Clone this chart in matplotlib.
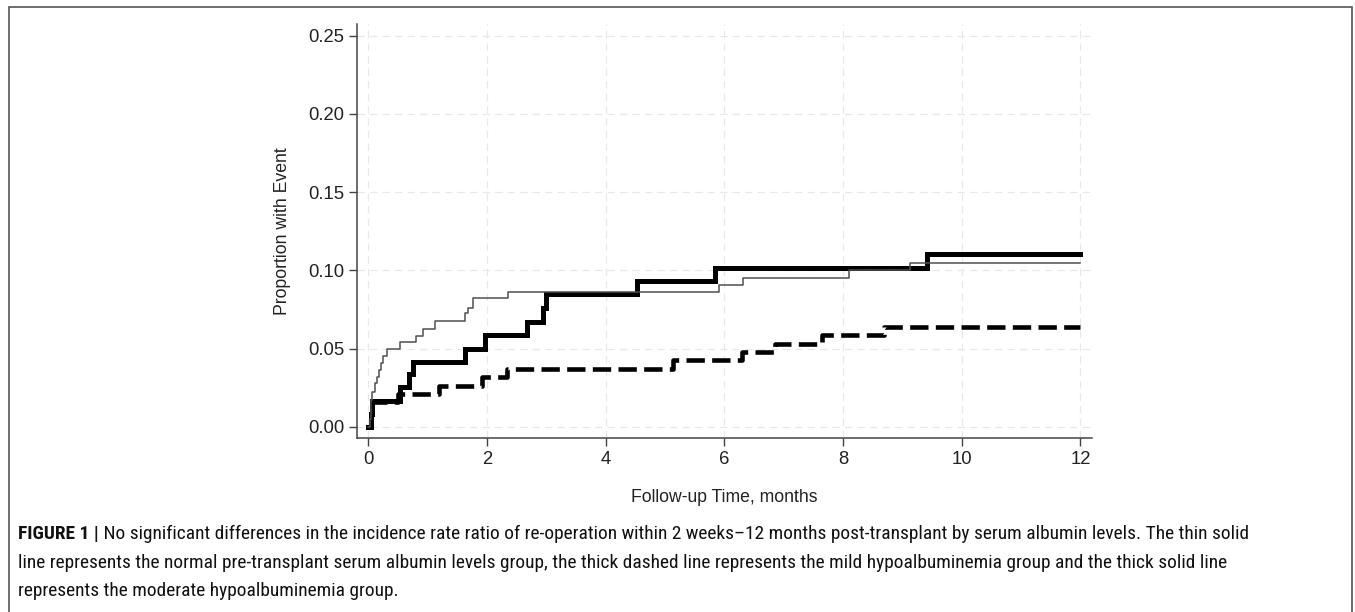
import matplotlib
matplotlib.use("Agg")
import matplotlib.pyplot as plt
from matplotlib import font_manager
from matplotlib.patches import Rectangle

# ---- data ----
normal_t = [0, 0.03, 0.04, 0.05, 0.07, 0.11, 0.14, 0.175, 0.21, 0.25, 0.31, 0.53, 0.81,
            0.93, 1.12, 1.63, 1.68, 1.77, 2.36, 5.91, 6.31, 8.10, 9.12, 12]
normal_p = [0, 0.005, 0.011, 0.017, 0.022, 0.028, 0.032, 0.036, 0.0405, 0.045, 0.050, 0.054,
            0.058, 0.0625, 0.0675, 0.0725, 0.076, 0.082, 0.086, 0.0905, 0.095, 0.100, 0.105, 0.105]

mild_t = [0, 0.04, 0.05, 0.06, 0.50, 1.20, 1.91, 2.34, 5.14, 6.29, 6.85, 7.64, 8.69, 12]
mild_p = [0, 0.005, 0.011, 0.016, 0.021, 0.026, 0.032, 0.037, 0.0426, 0.048, 0.053, 0.0586,
          0.064, 0.064]

moderate_t = [0, 0.045, 0.05, 0.055, 0.06, 0.53, 0.69, 0.75, 1.63, 1.97, 2.67, 2.95, 3.0,
              4.52, 5.84, 9.41, 12]
moderate_p = [0, 0.004, 0.008, 0.012, 0.0166, 0.0256, 0.0337, 0.0416, 0.050, 0.0586, 0.067,
              0.076, 0.0848, 0.093, 0.1017, 0.1104, 0.1104]

x_ticks = [0, 2, 4, 6, 8, 10, 12]
y_ticks = [0.00, 0.05, 0.10, 0.15, 0.20, 0.25]
y_tick_labels = ["0.00", "0.05", "0.10", "0.15", "0.20", "0.25"]
x_label = "Follow-up Time, months"
y_label = "Proportion with Event"
caption_bold = "FIGURE 1 |"
caption_lines = [
    " No significant differences in the incidence rate ratio of re-operation within 2 weeks\u201312 months post-transplant by serum albumin levels. The thin solid",
    "line represents the normal pre-transplant serum albumin levels group, the thick dashed line represents the mild hypoalbuminemia group and the thick solid line",
    "represents the moderate hypoalbuminemia group.",
]

available = {f.name for f in font_manager.fontManager.ttflist}
base_font = "Liberation Sans" if "Liberation Sans" in available else "DejaVu Sans"
cap_font = base_font
for cand in ["Liberation Sans Narrow", "Roboto Condensed", "Open Sans Condensed"]:
    if cand in available:
        cap_font = cand
        break
plt.rcParams["font.family"] = [base_font, "DejaVu Sans"]

W, H = 1355, 612
fig = plt.figure(figsize=(W / 100, H / 100), dpi=100)
fig.patch.set_facecolor("white")

# outer frame
fig.add_artist(Rectangle((9 / W, -0.05), (1352 - 9) / W, (H - 6.5) / H + 0.05,
                         transform=fig.transFigure, fill=False, edgecolor="#555555",
                         linewidth=1.2))

ax = fig.add_axes([357.3 / W, (H - 438.3) / H, (1091.7 - 357.3) / W, (438.3 - 24) / H])
ax.set_xlim(-0.185, 12.19)
ax.set_ylim(-0.0074, 0.2575)

for s in ["top", "right"]:
    ax.spines[s].set_visible(False)
for s in ["left", "bottom"]:
    ax.spines[s].set_color("#444444")
    ax.spines[s].set_linewidth(1.1)

ax.set_xticks(x_ticks)
ax.set_yticks(y_ticks)
ax.set_yticklabels(y_tick_labels)
ax.tick_params(axis="both", direction="out", length=5.5, width=1, color="#444444",
               labelsize=13.3, labelcolor="#222222", pad=4)
ax.grid(True, color="#e8e8e8", linestyle=(0, (6, 4)), linewidth=0.9)
ax.set_axisbelow(True)

ax.step(moderate_t, moderate_p, where="post", color="black", linewidth=3.6, zorder=3,
        solid_joinstyle="miter")
ax.step(mild_t, mild_p, where="post", color="black", linewidth=3.3, zorder=3,
        linestyle=(0, (4.0, 1.6)), dash_capstyle="butt")
ax.step(normal_t, normal_p, where="post", color="#505050", linewidth=1.1, zorder=4)

ax.set_xlabel(x_label, fontsize=12.7, color="#222222", labelpad=15)
ax.set_ylabel(y_label, fontsize=12.7, color="#222222", labelpad=12)

# caption, sized so that the first line spans the same width as in the reference
fig.canvas.draw()
renderer = fig.canvas.get_renderer()
x0 = 18 / W
ys = [534, 563, 591]
target_width = 1247 - 18
fs = 12.5
for _ in range(3):
    t1 = fig.text(0, 0, caption_bold, fontsize=fs, fontweight="bold", family=[cap_font, "DejaVu Sans"])
    t2 = fig.text(0, 0, caption_lines[0], fontsize=fs, family=[cap_font, "DejaVu Sans"])
    w = t1.get_window_extent(renderer).width + t2.get_window_extent(renderer).width
    t1.remove()
    t2.remove()
    fs *= target_width / w

tb = fig.text(x0, 1 - ys[0] / H, caption_bold, fontsize=fs, fontweight="bold",
              family=[cap_font, "DejaVu Sans"], va="center", ha="left", color="#111111")
bb = tb.get_window_extent(renderer=renderer)
fig.text(bb.x1 / W, 1 - ys[0] / H, caption_lines[0], fontsize=fs,
         family=[cap_font, "DejaVu Sans"], va="center", ha="left", color="#111111")
for line, y in zip(caption_lines[1:], ys[1:]):
    fig.text(x0, 1 - y / H, line, fontsize=fs, family=[cap_font, "DejaVu Sans"],
             va="center", ha="left", color="#111111")

fig.savefig("out.png", dpi=100, facecolor="white")
